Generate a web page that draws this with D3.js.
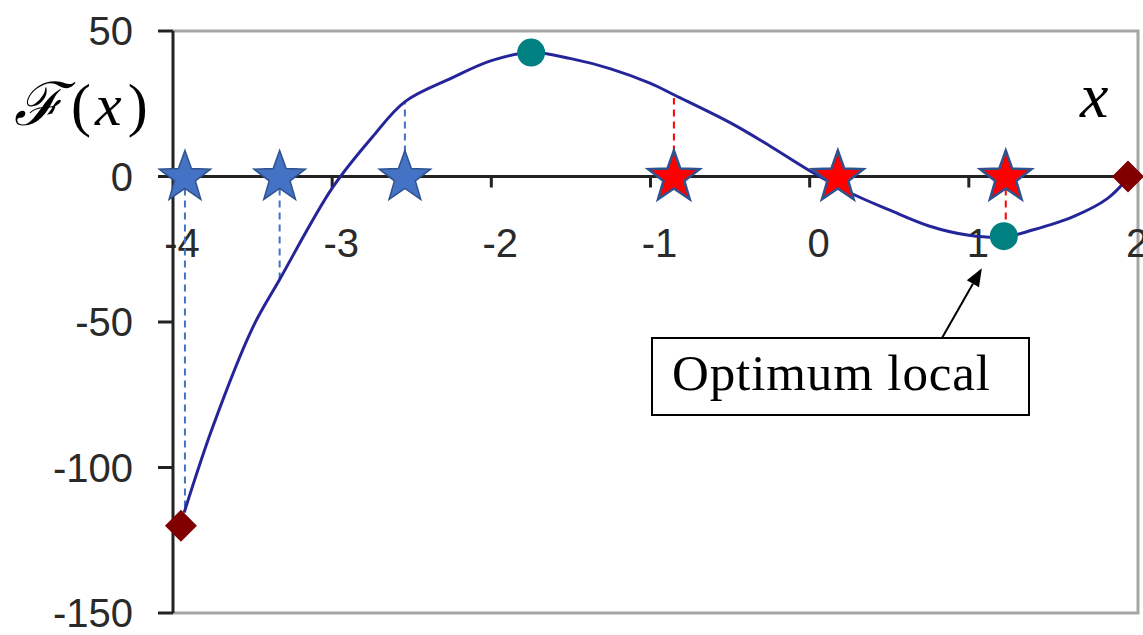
<!DOCTYPE html>
<html>
<head>
<meta charset="utf-8">
<script src="https://cdn.jsdelivr.net/npm/d3@7"></script>
<style>
  body { margin: 0; background: #fff; }
  svg { display: block; }
</style>
</head>
<body>
<script>
// Size of the page
var w = 1143;
var h = 635;

// Curve of F(x)
var curveX = [-3.93, -3.75, -3.5, -3.33, -3.0, -2.75, -2.54, -2.25, -2.0, -1.75, -1.5, -1.25, -1.0,
              -0.85, -0.5, -0.25, 0, 0.25, 0.5, 0.75, 1.0, 1.22, 1.4, 1.66, 1.87, 2.0];
var curveY = [-115.5, -86, -52, -35.4, -4, 13.4, 25.8, 33.8, 39.8, 42.6, 40.5, 37, 32,
              28, 18.5, 10.5, 2, -5.5, -11.5, -17, -20.2, -20.8, -18.4, -13.7, -7.6, -0.5];

// Stars on the x axis
var blueStarX = [-3.925, -3.33, -2.543];
var blueDropY = [-115.5, -35.4, 25.8];
var redStarX = [-0.853, 0.177, 1.232];
var redDropX = [-0.853, 1.232];
var redDropY = [27, -20.5];

// Optima (teal) and bounds (dark red)
var optX = [-1.75, 1.22];
var optY = [42.6, -20.5];
var boundX = [-3.95, 2.0];
var boundY = [-120, 0];

// Axis ticks
var xTicks = [-4, -3, -2, -1, 0, 1, 2];
var yTicks = [50, 0, -50, -100, -150];

// Scales
var xScale = d3.scaleLinear().domain([-4, 2]).range([173, 1128]);
var yScale = d3.scaleLinear().domain([-150, 50]).range([613, 31]);

var svg = d3.select("body").append("svg")
    .attr("width", w)
    .attr("height", h);

var plotLeft = xScale(-4), plotRight = xScale(2) + 10;
var plotTop = yScale(50), plotBottom = yScale(-150);

// Plot area border (grey)
svg.append("path")
    .attr("d", "M" + plotLeft + "," + plotTop + "H" + plotRight + "V" + plotBottom + "H" + plotLeft)
    .attr("fill", "none")
    .attr("stroke", "#a6a6a6")
    .attr("stroke-width", 3);

// Tick labels
var tickFont = "'Liberation Sans', Arial, sans-serif";
svg.selectAll(".ylab")
    .data(yTicks)
    .enter()
    .append("text")
    .attr("x", 133)
    .attr("y", function(d) { return yScale(d) + 14; })
    .attr("text-anchor", "end")
    .attr("font-family", tickFont)
    .attr("font-size", "40px")
    .attr("fill", "#2a2a2a")
    .text(function(d) { return d; });

svg.selectAll(".xlab")
    .data(xTicks)
    .enter()
    .append("text")
    .attr("x", function(d) { return xScale(d) + 9; })
    .attr("y", 257)
    .attr("text-anchor", "middle")
    .attr("font-family", tickFont)
    .attr("font-size", "40px")
    .attr("fill", "#2a2a2a")
    .text(function(d) { return d; });

// Y ticks
svg.selectAll(".ytick")
    .data(yTicks)
    .enter()
    .append("line")
    .attr("x1", plotLeft - 15)
    .attr("x2", plotLeft)
    .attr("y1", function(d) { return yScale(d); })
    .attr("y2", function(d) { return yScale(d); })
    .attr("stroke", "#222")
    .attr("stroke-width", 3);

// X ticks (downward)
svg.selectAll(".xtick")
    .data(xTicks.slice(1))
    .enter()
    .append("line")
    .attr("x1", function(d) { return xScale(d); })
    .attr("x2", function(d) { return xScale(d); })
    .attr("y1", yScale(0))
    .attr("y2", yScale(0) + 11)
    .attr("stroke", "#222")
    .attr("stroke-width", 3);

// Axes lines
svg.append("line")
    .attr("x1", plotLeft).attr("x2", plotLeft)
    .attr("y1", plotTop).attr("y2", plotBottom)
    .attr("stroke", "#222").attr("stroke-width", 3);
svg.append("line")
    .attr("x1", plotLeft).attr("x2", plotRight)
    .attr("y1", yScale(0)).attr("y2", yScale(0))
    .attr("stroke", "#222").attr("stroke-width", 3);

// Dashed drop lines
svg.selectAll(".bdrop")
    .data(blueStarX)
    .enter()
    .append("line")
    .attr("x1", function(d) { return xScale(d); })
    .attr("x2", function(d) { return xScale(d); })
    .attr("y1", yScale(0))
    .attr("y2", function(d, i) { return yScale(blueDropY[i]); })
    .attr("stroke", "#4472c4")
    .attr("stroke-width", 2)
    .attr("stroke-dasharray", "7,5");

svg.selectAll(".rdrop")
    .data(redDropX)
    .enter()
    .append("line")
    .attr("x1", function(d) { return xScale(d); })
    .attr("x2", function(d) { return xScale(d); })
    .attr("y1", yScale(0))
    .attr("y2", function(d, i) { return yScale(redDropY[i]); })
    .attr("stroke", "#ff0000")
    .attr("stroke-width", 2)
    .attr("stroke-dasharray", "7,5");

// The curve
var line = d3.line()
    .x(function(d) { return xScale(d[0]); })
    .y(function(d) { return yScale(d[1]); })
    .curve(d3.curveCatmullRom.alpha(0.5));

svg.append("path")
    .datum(d3.zip(curveX, curveY))
    .attr("d", line)
    .attr("fill", "none")
    .attr("stroke", "#25259a")
    .attr("stroke-width", 3);

// Bounds: dark red diamonds
svg.selectAll(".bound")
    .data(boundX)
    .enter()
    .append("path")
    .attr("d", "M0,-16L16,0L0,16L-16,0Z")
    .attr("transform", function(d, i) { return "translate(" + xScale(d) + "," + yScale(boundY[i]) + ")"; })
    .attr("fill", "#800000");

// Optima: teal dots
svg.selectAll(".opt")
    .data(optX)
    .enter()
    .append("circle")
    .attr("cx", function(d) { return xScale(d); })
    .attr("cy", function(d, i) { return yScale(optY[i]); })
    .attr("r", 14)
    .attr("fill", "#008080");

// Star shape
function starPath(R, r) {
    var pts = [];
    for (var k = 0; k < 10; k++) {
        var a = -Math.PI / 2 + k * Math.PI / 5;
        var rad = k % 2 === 0 ? R : r;
        pts.push([rad * Math.cos(a), rad * Math.sin(a)]);
    }
    return "M" + pts.map(function(p) { return p[0].toFixed(2) + "," + p[1].toFixed(2); }).join("L") + "Z";
}

svg.selectAll(".bstar")
    .data(blueStarX)
    .enter()
    .append("path")
    .attr("d", starPath(27, 11))
    .attr("transform", function(d) { return "translate(" + xScale(d) + "," + (yScale(0) + 1) + ")"; })
    .attr("fill", "#4472c4")
    .attr("stroke", "#2f528f")
    .attr("stroke-width", 1.5);

svg.selectAll(".rstar")
    .data(redStarX)
    .enter()
    .append("path")
    .attr("d", starPath(27, 11))
    .attr("transform", function(d) { return "translate(" + xScale(d) + "," + (yScale(0) + 1) + ")"; })
    .attr("fill", "#ff0000")
    .attr("stroke", "#2f528f")
    .attr("stroke-width", 2.5);

// Axis titles
var mathFont = "'Cambria Math', 'Liberation Serif', 'DejaVu Serif', serif";
var fx = svg.append("text")
    .attr("x", 14)
    .attr("y", 125)
    .attr("font-family", mathFont)
    .attr("font-size", "60px")
    .attr("fill", "#000");
fx.append("tspan").attr("font-family", "'DejaVu Serif', serif").attr("font-style", "italic").text("ℱ");
fx.append("tspan").attr("dx", 8).text("(");
fx.append("tspan").attr("dx", 4).attr("font-style", "italic").text("x");
fx.append("tspan").attr("dx", 6).text(")");

svg.append("text")
    .attr("x", 1080)
    .attr("y", 117)
    .attr("font-family", mathFont)
    .attr("font-style", "italic")
    .attr("font-size", "64px")
    .attr("fill", "#000")
    .text("x");

// Annotation box with arrow
var tipX = xScale(optX[1]) - 22, tipY = yScale(optY[1]) + 32;
svg.append("rect")
    .attr("x", 652).attr("y", 338)
    .attr("width", 377).attr("height", 77)
    .attr("fill", "#fff")
    .attr("stroke", "#000")
    .attr("stroke-width", 2);
svg.append("text")
    .attr("x", 672).attr("y", 390)
    .attr("font-family", "'Palatino Linotype', 'Book Antiqua', 'Liberation Serif', serif")
    .attr("font-size", "51px")
    .attr("textLength", 318)
    .attr("lengthAdjust", "spacing")
    .attr("fill", "#000")
    .text("Optimum local");

var baseX = 942, baseY = 338;
var ang = Math.atan2(tipY - baseY, tipX - baseX);
var hl = 18, hw = 7;
var bx = tipX - hl * Math.cos(ang), by = tipY - hl * Math.sin(ang);
svg.append("line")
    .attr("x1", baseX).attr("y1", baseY)
    .attr("x2", bx).attr("y2", by)
    .attr("stroke", "#000").attr("stroke-width", 2);
svg.append("path")
    .attr("d", "M" + tipX + "," + tipY +
               "L" + (bx + hw * Math.sin(ang)) + "," + (by - hw * Math.cos(ang)) +
               "L" + (bx - hw * Math.sin(ang)) + "," + (by + hw * Math.cos(ang)) + "Z")
    .attr("fill", "#000");
</script>
</body>
</html>
